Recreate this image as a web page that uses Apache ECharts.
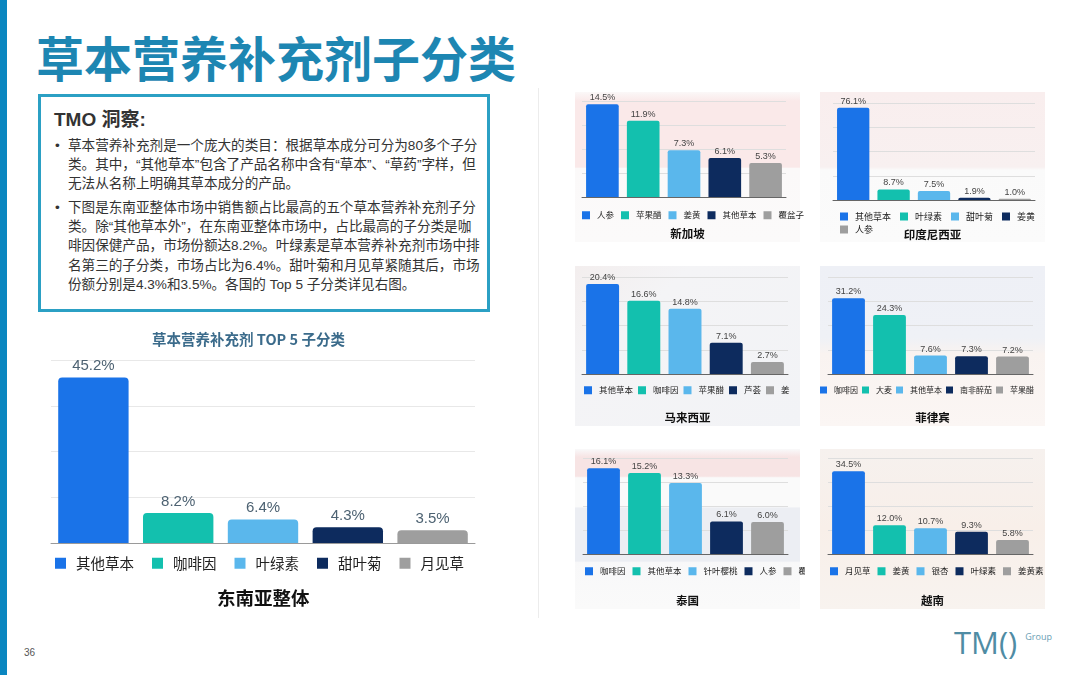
<!DOCTYPE html>
<html>
<head>
<meta charset="utf-8">
<script src="https://cdn.jsdelivr.net/npm/echarts@6/dist/echarts.min.js"></script>
<style>
  html, body { margin:0; padding:0; background:#fff; }
  body { width:1080px; height:675px; position:relative; overflow:hidden;
         font-family:'Liberation Sans','Noto Sans CJK SC',sans-serif; }
  .abs { position:absolute; }
  #sidebar { left:0; top:0; width:7px; height:675px; background:#0a86c0; }
  #title { left:36px; top:24px; font-size:48px; font-weight:bold; color:#1d86b2;
           font-family:'Noto Sans CJK SC',sans-serif; line-height:64px; white-space:nowrap; }
  #box { left:38px; top:94px; width:446px; height:212px; border:3px solid #2ba0c4; }
  #boxhead { left:13px; top:7px; font-size:19px; font-weight:bold; color:#333; }
  .para { position:absolute; left:27px; font-size:13.6px; line-height:19.2px; color:#333;
          font-family:'Liberation Sans','Noto Sans CJK SC',sans-serif; white-space:nowrap; }
  .dot { position:absolute; left:-13px; top:0; }
  #sep { left:538px; top:88px; width:1px; height:530px; background:#ececec; }
  .panel { position:absolute; }
  .chart { position:absolute; width:235px; height:165px; }
  #pageno { left:24px; top:647px; font-size:10px; color:#555; }
  #logo { left:954px; top:621px; font-size:31px; color:#4f8ca4; letter-spacing:0px;
          font-family:'Open Sans','Liberation Sans',sans-serif; font-weight:400; white-space:nowrap; }
  #logo span { font-size:9px; vertical-align:top; position:relative; top:9px; left:8px; color:#6aa0b4; }
</style>
</head>
<body>
<div id="sidebar" class="abs"></div>
<div id="title" class="abs">草本营养补充剂子分类</div>
<div id="box" class="abs">
  <div id="boxhead" class="abs">TMO 洞察:</div>
  <div class="para" style="top:39px;"><span class="dot">•</span>草本营养补充剂是一个庞大的类目：根据草本成分可分为80多个子分<br>类。其中，“其他草本”包含了产品名称中含有“草本”、“草药”字样，但<br>无法从名称上明确其草本成分的产品。</div>
  <div class="para" style="top:101px;"><span class="dot">•</span>下图是东南亚整体市场中销售额占比最高的五个草本营养补充剂子分<br>类。除“其他草本外”，在东南亚整体市场中，占比最高的子分类是咖<br>啡因保健产品，市场份额达8.2%。叶绿素是草本营养补充剂市场中排<br>名第三的子分类，市场占比为6.4%。甜叶菊和月见草紧随其后，市场<br>份额分别是4.3%和3.5%。各国的 Top 5 子分类详见右图。</div>
</div>
<div id="sep" class="abs"></div>

<!-- faded flag backgrounds behind the country charts -->
<div class="panel" style="left:575px;top:92px;width:225px;height:150px;background:linear-gradient(#fbf8f8 0%,#fae9e9 6%,#fae9e9 50%,#fbf9f9 51%,#fbfafa 100%);"></div>
<div class="panel" style="left:820px;top:92px;width:225px;height:150px;background:linear-gradient(#f9eeee 0%,#f8f0f0 50%,#fafafa 52%,#fbfbfb 100%);"></div>
<div class="panel" style="left:575px;top:266px;width:225px;height:160px;background:linear-gradient(135deg,#f3eeee 0%,#f4f4f6 30%,#f2f3f6 100%);"></div>
<div class="panel" style="left:820px;top:266px;width:225px;height:160px;background:linear-gradient(#eef0f6 0%,#eff1f6 45%,#f9f3f0 55%,#fbf6f4 100%);"></div>
<div class="panel" style="left:575px;top:449px;width:225px;height:160px;background:linear-gradient(#f9f9fa 0%,#f7e4e4 5%,#f7e4e4 17%,#fafafa 18%,#fafafa 36%,#eceef3 37%,#eceef3 70%,#f8f8f9 71%,#fafafa 100%);"></div>
<div class="panel" style="left:820px;top:449px;width:225px;height:160px;background:linear-gradient(#f6f1ee 0%,#f8efe9 50%,#f8f3ef 100%);"></div>

<div id="main" class="abs" style="left:30px;top:320px;width:470px;height:300px;"></div>
<div id="sg" class="chart" style="left:570px;top:88px;"></div>
<div id="id" class="chart" style="left:815px;top:88px;"></div>
<div id="my" class="chart" style="left:570px;top:262px;"></div>
<div id="ph" class="chart" style="left:815px;top:262px;"></div>
<div id="th" class="chart" style="left:570px;top:445px;"></div>
<div id="vn" class="chart" style="left:815px;top:445px;"></div>

<div id="pageno" class="abs">36</div>
<div id="logo" class="abs">TM()<span>Group</span></div>

<script>
// 五个子分类的颜色（按排名）
var barColors = ['#1a73e8', '#13c0ae', '#5ab7ec', '#0d2b5e', '#9e9e9e'];

// 东南亚整体
var seaNames = ['其他草本', '咖啡因', '叶绿素', '甜叶菊', '月见草'];
var seaValues = [45.2, 8.2, 6.4, 4.3, 3.5];

// 各国 Top 5
var sgNames = ['人参', '苹果醋', '姜黄', '其他草本', '覆盆子'];
var sgValues = [14.5, 11.9, 7.3, 6.1, 5.3];
var idNames = ['其他草本', '叶绿素', '甜叶菊', '姜黄', '人参'];
var idValues = [76.1, 8.7, 7.5, 1.9, 1.0];
var myNames = ['其他草本', '咖啡因', '苹果醋', '芦荟', '姜'];
var myValues = [20.4, 16.6, 14.8, 7.1, 2.7];
var phNames = ['咖啡因', '大麦', '其他草本', '南非醉茄', '苹果醋'];
var phValues = [31.2, 24.3, 7.6, 7.3, 7.2];
var thNames = ['咖啡因', '其他草本', '针叶樱桃', '人参', '覆盆子'];
var thValues = [16.1, 15.2, 13.3, 6.1, 6.0];
var vnNames = ['月见草', '姜黄', '银杏', '叶绿素', '姜黄素'];
var vnValues = [34.5, 12.0, 10.7, 9.3, 5.8];

var fontNum = "'Liberation Sans','Noto Sans CJK SC',sans-serif";
var fontCjk = "'Noto Sans CJK SC',sans-serif";

function barChart(elem, names, values, cfg) {
    var myChart = echarts.init(elem, null, {renderer: 'canvas'});

    // 每个子分类一个系列，叠在同一位置上，这样图例能按颜色显示名称
    var series = names.map(function (n, i) {
        return {
            name: n,
            type: 'bar',
            barWidth: cfg.barWidth,
            barGap: '-100%',
            data: values.map(function (v, j) { return j === i ? v : null; }),
            itemStyle: { color: barColors[i], borderRadius: cfg.radius },
            label: {
                show: true,
                position: 'top',
                distance: cfg.labelDist,
                color: cfg.labelColor,
                fontSize: cfg.labelSize,
                fontFamily: fontNum,
                formatter: function (p) { return p.value.toFixed(1) + '%'; }
            },
            emphasis: { disabled: true }
        };
    });

    var legends = cfg.legends.map(function (lg) {
        return {
            data: lg.data || names,
            left: lg.left,
            top: lg.top,
            width: 600,
            icon: 'rect',
            itemWidth: lg.icon || cfg.iconSize,
            itemHeight: lg.icon || cfg.iconSize,
            itemGap: lg.gap || cfg.legendGap,
            padding: 0,
            selectedMode: false,
            textStyle: {
                fontSize: lg.size || cfg.legendSize,
                color: '#222',
                fontFamily: fontCjk,
                padding: [0, 0, 0, cfg.legendPad]
            }
        };
    });

    var option = {
        animation: false,
        title: cfg.titles,
        legend: legends,
        grid: cfg.grid,
        xAxis: {
            type: 'category',
            data: names,
            axisLabel: { show: false },
            axisTick: { show: false },
            axisLine: { lineStyle: { color: cfg.axisColor, width: 1 } }
        },
        yAxis: {
            type: 'value',
            min: 0,
            max: cfg.max,
            interval: cfg.interval,
            axisLabel: { show: false },
            axisLine: { show: false },
            axisTick: { show: false },
            splitLine: { lineStyle: { color: cfg.gridColor } }
        },
        series: series
    };
    myChart.setOption(option);
}

// 左侧：东南亚整体
barChart(document.getElementById('main'), seaNames, seaValues, {
    grid: { left: 21, right: 25, top: 40, bottom: 77 },
    max: 50, interval: 12.5,
    barWidth: '83%',
    radius: [4, 4, 0, 0],
    labelDist: 4, labelColor: '#4d6272', labelSize: 15,
    iconSize: 11, legendGap: 18, legendSize: 14.5, legendPad: 5,
    axisColor: '#9a9a9a', gridColor: '#e8e8e8',
    legends: [{ left: 25, top: 236 }],
    titles: [
        { text: '草本营养补充剂 TOP 5 子分类', left: 117, top: 7,
          textStyle: { fontSize: 14.5, fontWeight: 'bold', color: '#3b6b8b', fontFamily: fontCjk } },
        { text: '东南亚整体', left: 182, top: 264,
          textStyle: { fontSize: 18.5, fontWeight: 'bold', color: '#111', fontFamily: fontCjk } }
    ]
});

function smallCfg(o) {
    var t = { text: o.country, left: 'center', top: o.titleTop,
              textStyle: { fontSize: 11.5, fontWeight: 'bold', color: '#111', fontFamily: fontCjk } };
    return {
        grid: o.grid, max: o.max, interval: o.interval,
        barWidth: '80%',
        radius: [2, 2, 0, 0],
        labelDist: 2, labelColor: '#444', labelSize: 9,
        iconSize: 8, legendGap: 7, legendSize: 8.5, legendPad: 2,
        axisColor: '#666', gridColor: '#dedede',
        legends: o.legends,
        titles: [t]
    };
}

barChart(document.getElementById('sg'), sgNames, sgValues, smallCfg({
    country: '新加坡', titleTop: 135, max: 15, interval: 3.75,
    grid: { left: 12, right: 19, top: 13, bottom: 56 },
    legends: [{ left: 12, top: 123 }]
}));
barChart(document.getElementById('id'), idNames, idValues, smallCfg({
    country: '印度尼西亚', titleTop: 136, max: 80, interval: 20,
    grid: { left: 18, right: 15, top: 15, bottom: 53 },
    legends: [{ data: idNames.slice(0, 4), left: 25, top: 124, gap: 9, size: 9 },
              { data: idNames.slice(4), left: 25, top: 137, size: 9 }]
}));
barChart(document.getElementById('my'), myNames, myValues, smallCfg({
    country: '马来西亚', titleTop: 145, max: 22, interval: 5.5,
    grid: { left: 12, right: 17, top: 15, bottom: 53 },
    legends: [{ left: 14, top: 124, gap: 5 }]
}));
barChart(document.getElementById('ph'), phNames, phValues, smallCfg({
    country: '菲律宾', titleTop: 145, max: 40, interval: 10,
    grid: { left: 13, right: 17, top: 15, bottom: 53 },
    legends: [{ left: 5, top: 124, gap: 4, size: 8, icon: 7 }]
}));
barChart(document.getElementById('th'), thNames, thValues, smallCfg({
    country: '泰国', titleTop: 145, max: 18, interval: 4.5,
    grid: { left: 13, right: 17, top: 13, bottom: 56 },
    legends: [{ left: 15, top: 122 }]
}));
barChart(document.getElementById('vn'), vnNames, vnValues, smallCfg({
    country: '越南', titleTop: 145, max: 40, interval: 10,
    grid: { left: 13, right: 17, top: 13, bottom: 56 },
    legends: [{ left: 15, top: 122 }]
}));
</script>
</body>
</html>
